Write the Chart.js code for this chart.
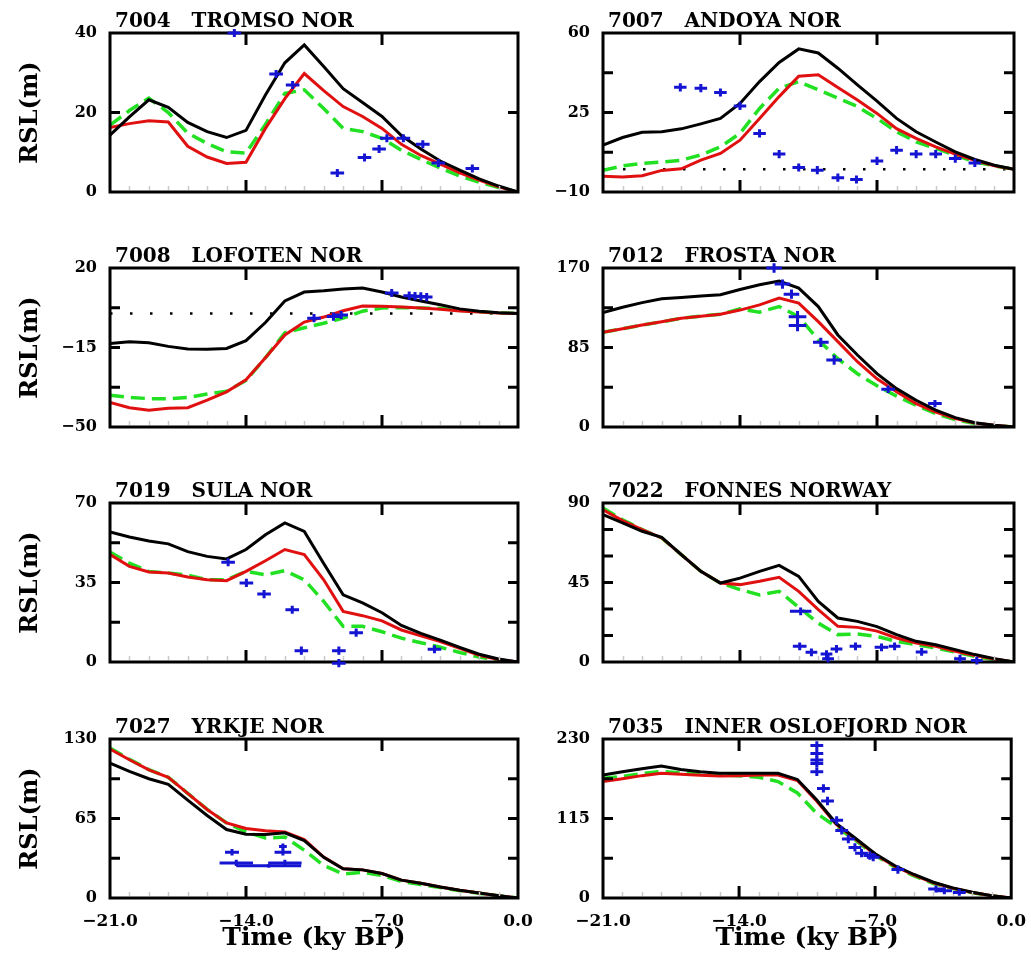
<!DOCTYPE html>
<html>
<head>
<meta charset="utf-8">
<script src="https://cdn.jsdelivr.net/npm/chart.js@4.4.1/dist/chart.umd.min.js"></script>
<style>
  body { margin: 0; background: #fff; width: 1031px; height: 954px; overflow: hidden; }
  canvas { position: absolute; }
</style>
</head>
<body>
<script>
// model time steps (ky BP)
const times = [-21, -20, -19, -18, -17, -16, -15, -14, -13, -12, -11, -10, -9, -8, -7, -6, -5, -4, -3, -2, -1, 0];

// 7004 TROMSO
const tromsoBlack = [14.3, 18.9, 23.2, 21.3, 17.5, 15.2, 13.7, 15.5, 24.4, 32.5, 37.0, 31.6, 26.0, 22.5, 19.0, 14.2, 10.8, 7.8, 5.5, 3.3, 1.5, 0];
const tromsoRed = [16.2, 17.2, 17.9, 17.6, 11.5, 8.8, 7.2, 7.5, 16.0, 23.5, 29.8, 25.5, 21.5, 19.0, 16.0, 12.0, 9.2, 7.0, 4.8, 3.0, 1.3, 0];
const tromsoGreen = [16.8, 20.5, 23.6, 20.0, 14.8, 12.2, 10.1, 9.8, 17.0, 24.8, 25.7, 21.0, 16.0, 15.2, 13.5, 10.5, 8.2, 6.0, 4.0, 2.5, 1.1, 0];
const tromsoObsT = [-14.6, -12.45, -11.6, -9.3, -7.9, -7.15, -6.75, -5.9, -4.9, -4.1, -2.35];
const tromsoObsY = [40, 29.7, 26.9, 4.8, 8.7, 10.8, 13.5, 13.5, 12.0, 7.3, 5.9];
const tromsoErrT = [0.35, 0.35, 0.35, 0.35, 0.35, 0.35, 0.35, 0.35, 0.35, 0.35, 0.35];
const tromsoErrY = [1.0, 1.0, 1.0, 1.0, 1.0, 1.0, 1.0, 1.0, 1.0, 1.0, 1.0];

// 7007 ANDOYA
const andoyaBlack = [10.6, 14.0, 16.3, 16.5, 17.8, 20.0, 22.4, 29.0, 38.6, 47.0, 53.0, 51.2, 44.5, 37.2, 30.0, 22.4, 16.5, 12.0, 7.7, 4.3, 1.8, 0];
const andoyaRed = [-3.1, -3.4, -2.8, -0.5, 0.2, 4.0, 7.0, 12.8, 22.4, 32.0, 41.0, 41.6, 36.0, 30.5, 24.6, 17.9, 13.6, 9.9, 6.7, 4.0, 1.5, 0];
const andoyaGreen = [-0.4, 1.5, 2.6, 3.2, 4.0, 6.3, 9.9, 15.8, 26.8, 35.7, 38.6, 35.0, 31.3, 27.6, 22.4, 16.5, 12.1, 9.2, 6.2, 3.3, 1.5, 0];
const andoyaObsT = [-17.05, -16.0, -15.0, -14.0, -13.0, -12.0, -11.0, -10.05, -9.0, -8.05, -7.0, -6.0, -5.0, -4.0, -3.0, -2.0];
const andoyaObsY = [36.1, 35.7, 33.8, 27.9, 15.8, 6.7, 0.8, -0.4, -3.7, -4.5, 3.7, 8.4, 6.7, 6.7, 4.7, 2.8];
const andoyaErrT = [0.32, 0.32, 0.32, 0.32, 0.32, 0.32, 0.32, 0.32, 0.32, 0.32, 0.32, 0.32, 0.32, 0.32, 0.32, 0.32];
const andoyaErrY = [1.8, 1.8, 1.8, 1.8, 1.8, 1.8, 1.8, 1.8, 1.8, 1.8, 1.8, 1.8, 1.8, 1.8, 1.8, 1.8];

// 7008 LOFOTEN
const lofotenBlack = [-13.2, -12.5, -12.9, -14.5, -15.7, -15.8, -15.4, -12.0, -4.0, 5.5, 9.4, 10.0, 10.8, 11.2, 9.4, 7.2, 5.5, 3.8, 2.0, 1.0, 0.3, 0];
const lofotenRed = [-39.2, -41.5, -42.6, -41.7, -41.5, -38.2, -34.5, -29.2, -19.5, -9.5, -3.8, -1.6, 1.2, 3.3, 3.2, 2.8, 2.4, 1.8, 1.1, 0.6, 0.2, 0];
const lofotenGreen = [-36.0, -37.0, -37.5, -37.6, -37.0, -35.5, -34.3, -29.5, -19.5, -8.5, -6.3, -4.3, -2.1, 1.0, 2.4, 2.6, 2.4, 2.2, 1.4, 0.7, 0.2, 0];
const lofotenObsT = [-10.5, -9.5, -9.1, -6.5, -5.6, -5.3, -5.0, -4.7];
const lofotenObsY = [-2.1, -1.4, -0.7, 9.0, 7.8, 7.6, 7.5, 7.2];
const lofotenErrT = [0.35, 0.35, 0.35, 0.35, 0.3, 0.3, 0.3, 0.3];
const lofotenErrY = [1.8, 1.8, 1.8, 1.8, 1.8, 1.8, 1.8, 1.8];

// 7012 FROSTA
const frostaBlack = [122.5, 128, 133, 137, 138.5, 140, 141.5, 147, 152, 156, 148.5, 128.8, 98.4, 77, 57, 41, 28.6, 18, 10, 4.6, 1.8, 0];
const frostaRed = [101.3, 105, 109, 112.5, 116.3, 118.5, 120.6, 125, 130.6, 137.8, 132.4, 112.7, 91.3, 69.8, 51.5, 37.6, 25, 16, 9, 4.3, 1.8, 0];
const frostaGreen = [101.3, 105, 109, 112.5, 116.3, 118.5, 120.6, 126.3, 122.8, 128.8, 118, 93, 73, 57, 44, 33, 23.3, 14.3, 7.9, 3.6, 1.4, 0];
const frostaObsT = [-12.26, -11.83, -11.37, -11.06, -11.06, -9.87, -9.19, -6.43, -4.04];
const frostaObsY = [170, 152.8, 142, 118, 108.4, 90.5, 71.6, 40.4, 25];
const frostaErrT = [0.4, 0.4, 0.4, 0.45, 0.45, 0.4, 0.4, 0.35, 0.35];
const frostaErrY = [5, 5, 5, 6, 6, 5, 5, 4, 4];

// 7019 SULA
const sulaBlack = [57.2, 55, 53.3, 52, 48.6, 46.5, 45.4, 49.5, 56, 61.2, 57.5, 43.4, 29.6, 26, 21.7, 16.1, 12.6, 9.6, 6.4, 3.4, 1.3, 0];
const sulaRed = [47.3, 42.1, 39.6, 39.2, 37.4, 36.2, 35.8, 39.9, 44.6, 49.5, 47.3, 36.2, 22.3, 20.4, 18.1, 14.1, 11.5, 9.0, 6.0, 3.0, 1.1, 0];
const sulaGreen = [48.4, 43.5, 39.9, 39.2, 38.2, 36.2, 36.2, 39.9, 38.4, 40.2, 36.2, 26.7, 15.7, 15.7, 13.3, 10.5, 8.5, 6.5, 4.2, 2.2, 0.8, 0];
const sulaObsT = [-14.92, -13.98, -13.07, -11.62, -11.15, -9.22, -9.22, -8.33, -4.3];
const sulaObsY = [43.9, 34.8, 29.9, 23.0, 5.0, 5.0, -0.5, 12.9, 5.6];
const sulaErrT = [0.35, 0.35, 0.35, 0.35, 0.35, 0.35, 0.35, 0.35, 0.35];
const sulaErrY = [1.8, 1.8, 1.8, 1.8, 1.8, 1.8, 1.8, 1.8, 1.8];

// 7022 FONNES
const fonnesBlack = [83.4, 78.7, 74, 70.6, 60.8, 51.3, 44.7, 47.5, 51.3, 54.7, 48.5, 34.3, 24.9, 23, 20, 15.5, 11.7, 9.8, 7, 4.2, 1.9, 0];
const fonnesRed = [86.2, 80, 74.9, 70.2, 60.8, 51.3, 44.7, 43.8, 45.7, 47.9, 40, 29.6, 20.2, 19.6, 17.5, 13.6, 10.8, 8.9, 6, 3.6, 1.7, 0];
const fonnesGreen = [87.2, 80.5, 75, 70.2, 60.8, 51.3, 44.7, 41, 38, 40, 31, 22, 15.5, 15.8, 14.5, 11.7, 9.8, 7.9, 5.7, 3.2, 1.3, 0];
const fonnesObsT = [-10.9, -10.95, -10.35, -9.58, -9.5, -9.07, -8.1, -6.77, -6.1, -4.72, -2.76, -1.9];
const fonnesObsY = [28.7, 8.9, 5.5, 4.5, 1.9, 7.4, 8.9, 8.3, 8.9, 5.7, 1.9, 0.8];
const fonnesErrT = [0.55, 0.35, 0.3, 0.3, 0.3, 0.3, 0.3, 0.35, 0.3, 0.3, 0.3, 0.3];
const fonnesErrY = [2.2, 2.2, 2.2, 2.2, 2.2, 2.2, 2.2, 2.2, 2.2, 2.2, 2.2, 2.2];

// 7027 YRKJE
const yrkjeBlack = [110.3, 103.5, 97.5, 93, 80, 67.5, 56, 52.1, 52, 53.3, 47, 33.2, 23.9, 23, 20, 14.6, 12.1, 9.0, 6.3, 4, 1.9, 0];
const yrkjeRed = [121.8, 113, 104.8, 98.7, 85.6, 72.4, 61.4, 56.8, 54.9, 54, 47.7, 33.5, 23.9, 23, 20, 14.6, 12.1, 9.0, 6.3, 4, 1.9, 0];
const yrkjeGreen = [122.6, 113.5, 105, 98.7, 85.6, 72.4, 61.4, 54, 49, 49.9, 39, 26.6, 19.7, 21.1, 18.4, 13.5, 11, 8.6, 6, 3.8, 1.8, 0];
const yrkjeObsT = [-14.72, -14.5, -12.83, -12.1, -12.1, -12.0];
const yrkjeObsY = [37.4, 28.7, 26.3, 42.1, 37.4, 28.7];
const yrkjeErrT = [0.36, 0.86, 1.67, 0.2, 0.43, 0.86];
const yrkjeErrY = [2.7, 2.5, 1.5, 2.5, 2.7, 2.5];

// 7035 INNER OSLOFJORD
const osloBlack = [178, 182.5, 187, 191, 186, 182.5, 180.5, 180.5, 180.5, 180.5, 171.5, 141.7, 107.7, 86, 64, 47, 34, 22.8, 14.6, 8.3, 3.4, 0];
const osloRed = [168.4, 172.5, 177, 180.5, 179, 177.5, 176.6, 177, 178, 178, 170, 140, 106.5, 85, 63, 46, 33, 22, 14, 8, 3.2, 0];
const osloGreen = [173.2, 176, 180, 183, 181, 179, 178, 177, 174.7, 168.4, 152, 122.3, 102.9, 83.5, 61.6, 45, 32, 21, 13.5, 7.5, 3, 0];
const osloObsT = [-10.0, -10.0, -10.0, -10.0, -10.0, -9.66, -9.45, -8.98, -8.72, -8.38, -8.04, -7.7, -7.27, -7.1, -5.83, -3.87, -3.44, -2.67];
const osloObsY = [220.6, 209.2, 199.5, 194.7, 182.6, 158.5, 140.3, 112.3, 97.8, 85.3, 73.2, 64.8, 61.4, 59.0, 41.1, 13.1, 10.6, 8.1];
const osloErrT = [0.33, 0.33, 0.33, 0.33, 0.33, 0.33, 0.33, 0.33, 0.33, 0.33, 0.33, 0.33, 0.33, 0.33, 0.33, 0.4, 0.4, 0.33];
const osloErrY = [6, 6, 6, 6, 6, 6, 6, 6, 6, 6, 6, 6, 6, 6, 6, 5, 5, 5];

const panels = [
    { title: '7004   TROMSO NOR', yMin: 0, yMax: 40, tickStep: 20, black: tromsoBlack, red: tromsoRed, green: tromsoGreen, obsT: tromsoObsT, obsY: tromsoObsY, errT: tromsoErrT, errY: tromsoErrY },
    { title: '7007   ANDOYA NOR', yMin: -10, yMax: 60, tickStep: 17.5, black: andoyaBlack, red: andoyaRed, green: andoyaGreen, obsT: andoyaObsT, obsY: andoyaObsY, errT: andoyaErrT, errY: andoyaErrY, zero: true },
    { title: '7008   LOFOTEN NOR', yMin: -50, yMax: 20, tickStep: 17.5, black: lofotenBlack, red: lofotenRed, green: lofotenGreen, obsT: lofotenObsT, obsY: lofotenObsY, errT: lofotenErrT, errY: lofotenErrY, zero: true },
    { title: '7012   FROSTA NOR', yMin: 0, yMax: 170, tickStep: 42.5, black: frostaBlack, red: frostaRed, green: frostaGreen, obsT: frostaObsT, obsY: frostaObsY, errT: frostaErrT, errY: frostaErrY },
    { title: '7019   SULA NOR', yMin: 0, yMax: 70, tickStep: 17.5, black: sulaBlack, red: sulaRed, green: sulaGreen, obsT: sulaObsT, obsY: sulaObsY, errT: sulaErrT, errY: sulaErrY },
    { title: '7022   FONNES NORWAY', yMin: 0, yMax: 90, tickStep: 15, black: fonnesBlack, red: fonnesRed, green: fonnesGreen, obsT: fonnesObsT, obsY: fonnesObsY, errT: fonnesErrT, errY: fonnesErrY },
    { title: '7027   YRKJE NOR', yMin: 0, yMax: 130, tickStep: 32.5, black: yrkjeBlack, red: yrkjeRed, green: yrkjeGreen, obsT: yrkjeObsT, obsY: yrkjeObsY, errT: yrkjeErrT, errY: yrkjeErrY },
    { title: '7035   INNER OSLOFJORD NOR', yMin: 0, yMax: 230, tickStep: 57.5, black: osloBlack, red: osloRed, green: osloGreen, obsT: osloObsT, obsY: osloObsY, errT: osloErrT, errY: osloErrY }
];

const FONT = '"DejaVu Serif", "Liberation Serif", serif';
const rowTops = [0, 235, 470, 706];
const rowHeights = [235, 235, 235, 248];

function minusFmt(v, digits) {
    const s = digits ? Math.abs(v).toFixed(digits) : String(Math.abs(v));
    return v < 0 ? '\u2212' + s : s;
}

// frame, inner tick marks and panel title
const framePlugin = {
    id: 'frame',
    afterDatasetsDraw(chart, args, opts) {
        const { ctx, chartArea: a, scales: { x, y } } = chart;
        ctx.save();
        // minor time ticks
        ctx.strokeStyle = '#c8c8c8';
        ctx.lineWidth = 1.5;
        for (let t = -20; t < 0; t++) {
            if (t % 7 === 0) continue;
            const px = Math.round(x.getPixelForValue(t)) + 0.5;
            ctx.beginPath();
            ctx.moveTo(px, a.bottom - 2);
            ctx.lineTo(px, a.bottom - 6);
            ctx.stroke();
        }
        ctx.strokeStyle = '#000';
        ctx.lineWidth = 3;
        [-14, -7].forEach(t => {
            const px = x.getPixelForValue(t);
            ctx.beginPath();
            ctx.moveTo(px, a.top); ctx.lineTo(px, a.top + 12);
            ctx.moveTo(px, a.bottom); ctx.lineTo(px, a.bottom - 12);
            ctx.stroke();
        });
        for (let v = y.min + opts.tickStep; v < y.max - 1e-6; v += opts.tickStep) {
            const py = y.getPixelForValue(v);
            ctx.beginPath();
            ctx.moveTo(a.left, py); ctx.lineTo(a.left + 10, py);
            ctx.moveTo(a.right, py); ctx.lineTo(a.right - 10, py);
            ctx.stroke();
        }
        ctx.lineWidth = 3;
        ctx.strokeRect(a.left, a.top, a.right - a.left, a.bottom - a.top);
        ctx.fillStyle = '#000';
        ctx.font = 'bold 20px ' + FONT;
        ctx.textAlign = 'left';
        ctx.textBaseline = 'alphabetic';
        ctx.fillText(opts.text, a.left + 5, a.top - 6);
        ctx.restore();
    }
};

// observation crosses with age and height error bars
const errorBarPlugin = {
    id: 'errorBars',
    afterDatasetsDraw(chart) {
        const { ctx, scales: { x, y } } = chart;
        chart.data.datasets.forEach((ds, i) => {
            if (!ds.errT) return;
            const meta = chart.getDatasetMeta(i);
            ctx.save();
            ctx.strokeStyle = ds.borderColor;
            ctx.lineWidth = 3;
            meta.data.forEach((pt, j) => {
                const d = ds.data[j];
                const x0 = x.getPixelForValue(d.x - ds.errT[j]);
                const x1 = x.getPixelForValue(d.x + ds.errT[j]);
                const y0 = y.getPixelForValue(d.y - ds.errY[j]);
                const y1 = y.getPixelForValue(d.y + ds.errY[j]);
                ctx.beginPath();
                ctx.moveTo(x0, pt.y); ctx.lineTo(x1, pt.y);
                ctx.moveTo(pt.x, y0); ctx.lineTo(pt.x, y1);
                ctx.stroke();
            });
            ctx.restore();
        });
    }
};

panels.forEach((p, idx) => {
    const col = idx % 2;
    const row = Math.floor(idx / 2);
    const isBottom = row === 3;
    const canvas = document.createElement('canvas');
    const left = col === 0 ? 0 : 525;
    const width = col === 0 ? 540 : 506;
    canvas.width = width;
    canvas.height = rowHeights[row];
    canvas.style.left = left + 'px';
    canvas.style.top = rowTops[row] + 'px';
    document.body.appendChild(canvas);

    const series = (vals) => times.map((t, i) => ({ x: t, y: vals[i] }));
    const datasets = [
        { data: series(p.black), borderColor: '#000000', borderWidth: 3 },
        { data: series(p.red), borderColor: '#e01010', borderWidth: 3 },
        { data: series(p.green), borderColor: '#22e022', borderWidth: 3.5, borderDash: [14, 7] }
    ];
    if (p.zero) {
        datasets.push({ data: [{ x: -21, y: 0 }, { x: 0, y: 0 }], borderColor: '#000000', borderWidth: 2.5, borderDash: [2.5, 17.5] });
    }
    datasets.unshift({
        type: 'scatter',
        data: p.obsT.map((t, i) => ({ x: t, y: p.obsY[i] })),
        errT: p.errT,
        errY: p.errY,
        borderColor: '#1414d2',
        pointRadius: 0,
        showLine: false
    });

    new Chart(canvas, {
        type: 'line',
        data: { datasets: datasets.map(d => Object.assign({ pointRadius: 0, tension: 0, fill: false }, d)) },
        options: {
            responsive: false,
            animation: false,
            events: [],
            layout: { padding: { left: 0, top: 33, right: col === 0 ? 22 : 17, bottom: 0 } },
            plugins: {
                legend: { display: false },
                tooltip: { enabled: false },
                frame: { text: p.title, tickStep: p.tickStep }
            },
            scales: {
                x: {
                    type: 'linear',
                    min: -21,
                    max: 0,
                    grid: { display: false },
                    border: { display: false },
                    ticks: {
                        display: isBottom,
                        stepSize: 7,
                        autoSkip: false,
                        maxRotation: 0,
                        padding: 5,
                        color: '#000',
                        font: { family: FONT, size: 17, weight: 'bold' },
                        callback: v => minusFmt(v, 1)
                    },
                    title: {
                        display: isBottom,
                        text: 'Time (ky BP)',
                        color: '#000',
                        font: { family: FONT, size: 25, weight: 'bold' },
                        padding: { top: 0, bottom: 1 }
                    },
                    afterFit: s => { s.height = rowHeights[row] - 33 - 159; }
                },
                y: {
                    min: p.yMin,
                    max: p.yMax,
                    grid: { display: false },
                    border: { display: false },
                    ticks: {
                        stepSize: (p.yMax - p.yMin) / 2,
                        padding: 5,
                        color: '#000',
                        font: { family: FONT, size: 16, weight: 'bold' },
                        callback: v => minusFmt(v)
                    },
                    title: {
                        display: col === 0,
                        text: 'RSL(m)',
                        color: '#000',
                        font: { family: FONT, size: 24, weight: 'bold' },
                        padding: { top: 16, bottom: 0 }
                    },
                    afterFit: s => { s.width = col === 0 ? 110 : 78; }
                }
            }
        },
        plugins: [framePlugin, errorBarPlugin]
    });
});
</script>
</body>
</html>
